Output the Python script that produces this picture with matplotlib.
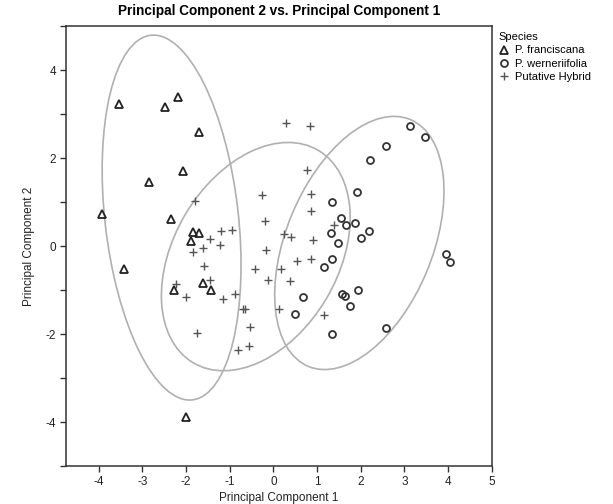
import numpy as np
import matplotlib
matplotlib.use("Agg")
import matplotlib.pyplot as plt
from matplotlib.patches import Ellipse

plt.rcParams['font.family'] = ['Liberation Sans', 'DejaVu Sans']
plt.rcParams['axes.unicode_minus'] = False

# P. franciscana
fran_x = [-3.53, -2.49, -2.18, -1.71, -2.08, -2.86, -3.93, -2.35, -1.83, -1.71,
          -1.89, -3.42, -1.61, -2.28, -1.42, -2.01]
fran_y = [3.22, 3.17, 3.39, 2.60, 1.70, 1.45, 0.73, 0.61, 0.33, 0.30,
          0.12, -0.53, -0.83, -1.00, -1.00, -3.88]

# P. werneriifolia
wern_x = [3.13, 3.47, 2.57, 2.22, 1.91, 1.34, 1.55, 1.67, 1.87, 1.32,
          2.20, 2.00, 1.48, 1.34, 1.16, 0.68, 0.49, 1.58, 1.63, 1.76,
          1.95, 1.35, 2.58, 3.95, 4.04]
wern_y = [2.73, 2.49, 2.27, 1.95, 1.23, 1.01, 0.65, 0.48, 0.52, 0.29,
          0.34, 0.19, 0.08, -0.30, -0.47, -1.15, -1.55, -1.08, -1.14, -1.36,
          -1.00, -2.00, -1.87, -0.17, -0.36]

# Putative Hybrid
hyb_x = [0.30, 0.83, 0.77, 0.87, 0.86, 1.39, 0.25, 0.41, 0.90, 0.54,
         0.87, 0.18, -0.12, 0.37, 0.14, 1.17, -1.80, -0.26, -0.20, -0.16,
         -0.42, -1.19, -0.94, -1.45, -1.23, -1.83, -1.62, -1.58, -1.45, -2.24,
         -2.01, -1.16, -0.89, -0.69, -0.66, -0.54, -1.74, -0.82, -0.56]
hyb_y = [2.81, 2.73, 1.73, 1.18, 0.80, 0.48, 0.28, 0.21, 0.14, -0.34,
         -0.30, -0.51, -0.77, -0.79, -1.43, -1.57, 1.03, 1.16, 0.57, -0.09,
         -0.52, 0.35, 0.36, 0.16, 0.03, -0.14, -0.05, -0.45, -0.77, -0.86,
         -1.15, -1.20, -1.10, -1.44, -1.42, -1.83, -1.97, -2.36, -2.27]

species = ["P. franciscana", "P. werneriifolia", "Putative Hybrid"]
x_ticks = [-4, -3, -2, -1, 0, 1, 2, 3, 4, 5]
y_ticks_major = [-4, -2, 0, 2, 4]
y_ticks_minor = [-5, -3, -1, 1, 3, 5]

ELLIPSE_COVERAGE = 0.90

fig = plt.figure(figsize=(6.13, 5.04), dpi=100)
ax = fig.add_axes([0.1077, 0.0754, 0.802 - 0.1077, 0.948 - 0.0754])


def conf_ellipse(x, y, coverage, **kw):
    x = np.asarray(x); y = np.asarray(y)
    cov = np.cov(x, y)
    vals, vecs = np.linalg.eigh(cov)
    order = vals.argsort()[::-1]
    vals, vecs = vals[order], vecs[:, order]
    k = np.sqrt(-2 * np.log(1 - coverage))
    angle = np.degrees(np.arctan2(vecs[1, 0], vecs[0, 0]))
    w, h = 2 * k * np.sqrt(vals)
    e = Ellipse((x.mean(), y.mean()), w, h, angle=angle, fill=False, **kw)
    ax.add_patch(e)


ell_kw = dict(edgecolor='#b0b0b0', linewidth=1.2, zorder=1)
conf_ellipse(fran_x, fran_y, ELLIPSE_COVERAGE, **ell_kw)
conf_ellipse(wern_x, wern_y, ELLIPSE_COVERAGE, **ell_kw)
conf_ellipse(hyb_x, hyb_y, ELLIPSE_COVERAGE, **ell_kw)

ax.plot(fran_x, fran_y, linestyle='none', marker='^', markersize=5.8,
        markerfacecolor='none', markeredgecolor='#222222', markeredgewidth=1.3,
        zorder=3, label=species[0])
ax.plot(wern_x, wern_y, linestyle='none', marker='o', markersize=5,
        markerfacecolor='none', markeredgecolor='#333333', markeredgewidth=1.3,
        zorder=3, label=species[1])
ax.plot(hyb_x, hyb_y, linestyle='none', marker='+', markersize=5.5,
        markeredgecolor='#555555', markeredgewidth=1.0,
        zorder=3, label=species[2])

ax.set_xlim(-4.75, 5)
ax.set_ylim(-5, 5)
ax.set_xticks(x_ticks)
ax.set_yticks(y_ticks_major)
ax.set_yticks(y_ticks_minor, minor=True)
ax.tick_params(axis='both', which='both', direction='out', length=4,
               width=1, color='#333333', labelsize=8.5, labelcolor='#222222', pad=3)

for s in ax.spines.values():
    s.set_color('#333333')
    s.set_linewidth(1.1)

ax.set_title("Principal Component 2 vs. Principal Component 1",
             fontsize=9.8, fontweight='bold', pad=8)
ax.set_xlabel("Principal Component 1", fontsize=8.5, color='#222222', labelpad=3)
ax.set_ylabel("Principal Component 2", fontsize=8.5, color='#222222', labelpad=8)

leg = fig.legend(loc='upper left', bbox_to_anchor=(0.806, 0.945), title="Species",
                 frameon=False, fontsize=8, title_fontsize=8, handlelength=1.0,
                 handletextpad=0.5, borderaxespad=0, labelspacing=0.3,
                 alignment='left')

fig.savefig("out.png", dpi=100)
